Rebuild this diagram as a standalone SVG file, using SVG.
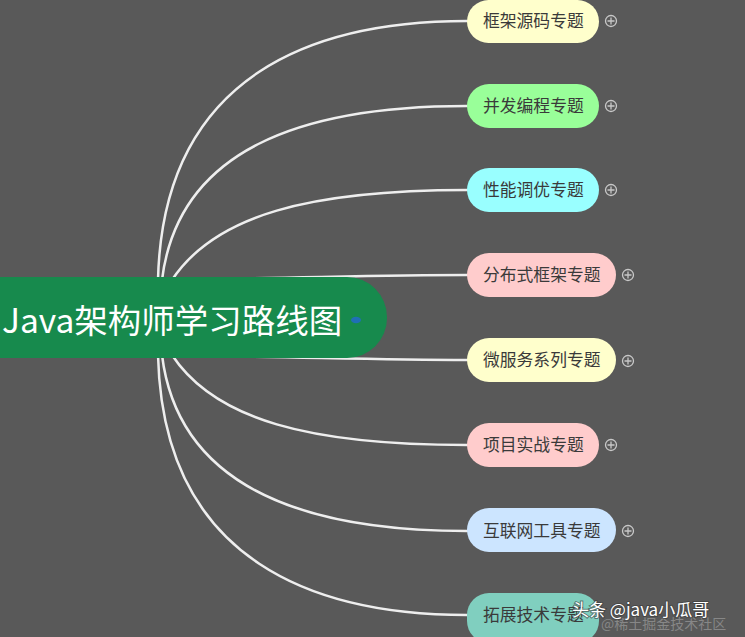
<svg xmlns="http://www.w3.org/2000/svg" width="745" height="637" viewBox="0 0 745 637">
<style>
.bg{fill:#595959}
.conn{fill:none;stroke:#eeeeee;stroke-width:2.5;stroke-linecap:round}
.topic{stroke:none}
.tt{font-family:"Noto Sans CJK SC","Liberation Sans",sans-serif;font-size:16.8px;fill:#3a3a3a}
.plus circle{fill:none;stroke:#c8c8c8;stroke-width:1.3}
.plus path{stroke:#c8c8c8;stroke-width:1.3}
.main{font-family:"Noto Sans CJK SC","Liberation Sans",sans-serif;font-size:33.5px;fill:#ffffff}
</style>
<defs>
<g id="plus" class="plus"><circle cx="0" cy="0" r="5.5"/><path d="M-3.5,0H3.5M0,-3.5V3.5"/></g>
</defs>
<rect class="bg" x="0" y="0" width="745" height="637"/>
<g id="connectors">
<path class="conn" d="M158,280 C163,70 320,21 467,21"/>
<path class="conn" d="M162,280 C178,150 300,106 467,106"/>
<path class="conn" d="M172,280 C215,215 310,190 467,190"/>
<path class="conn" d="M200,279 C300,278 380,275 467,275"/>
<path class="conn" d="M200,356 C300,357 380,360 467,360"/>
<path class="conn" d="M172,355 C215,420 310,445 467,445"/>
<path class="conn" d="M162,355 C178,485 300,531 467,531"/>
<path class="conn" d="M158,355 C163,565 320,615 467,615"/>
</g>
<g id="root">
<rect x="-45" y="277" width="432" height="81" rx="40" fill="#178a4d"/>
<text class="main" x="2" y="333">Java架构师学习路线图</text>
<ellipse cx="356" cy="320" rx="5" ry="3.2" fill="#1f6fb5"/>
</g>
<g id="n1"><rect class="topic" x="467" y="0" width="132" height="43" rx="21.5" fill="#ffffcc"/><text class="tt" x="483" y="27">框架源码专题</text><use href="#plus" x="611" y="21"/></g>
<g id="n2"><rect class="topic" x="467" y="84" width="132" height="44" rx="22" fill="#99ff99"/><text class="tt" x="483" y="112">并发编程专题</text><use href="#plus" x="611" y="106"/></g>
<g id="n3"><rect class="topic" x="467" y="168" width="132" height="44" rx="22" fill="#99ffff"/><text class="tt" x="483" y="196">性能调优专题</text><use href="#plus" x="611" y="190"/></g>
<g id="n4"><rect class="topic" x="467" y="253" width="149" height="44" rx="22" fill="#ffcccc"/><text class="tt" x="483" y="281">分布式框架专题</text><use href="#plus" x="628" y="275"/></g>
<g id="n5"><rect class="topic" x="467" y="338" width="149" height="44" rx="22" fill="#ffffcc"/><text class="tt" x="483" y="366">微服务系列专题</text><use href="#plus" x="628" y="361"/></g>
<g id="n6"><rect class="topic" x="467" y="423" width="132" height="44" rx="22" fill="#ffcccc"/><text class="tt" x="483" y="451">项目实战专题</text><use href="#plus" x="611" y="445"/></g>
<g id="n7"><rect class="topic" x="467" y="508" width="149" height="44" rx="22" fill="#cce5ff"/><text class="tt" x="483" y="537">互联网工具专题</text><use href="#plus" x="628" y="531"/></g>
<g id="n8"><rect class="topic" x="467" y="593" width="132" height="50" rx="22" fill="#80cfbf"/><text class="tt" x="483" y="621">拓展技术专题</text></g>
<g id="watermark">
<text x="601" y="629" font-family="Noto Sans CJK SC,Liberation Sans,sans-serif" font-size="14" fill="#ffffff" fill-opacity="0.28">@稀土掘金技术社区</text>
<text x="572" y="616" font-family="Noto Sans CJK SC,Liberation Sans,sans-serif" font-size="17" fill="#ffffff" stroke="#3a3a3a" stroke-opacity="0.6" stroke-width="2" paint-order="stroke">头条 @java小瓜哥</text>
</g>
</svg>
